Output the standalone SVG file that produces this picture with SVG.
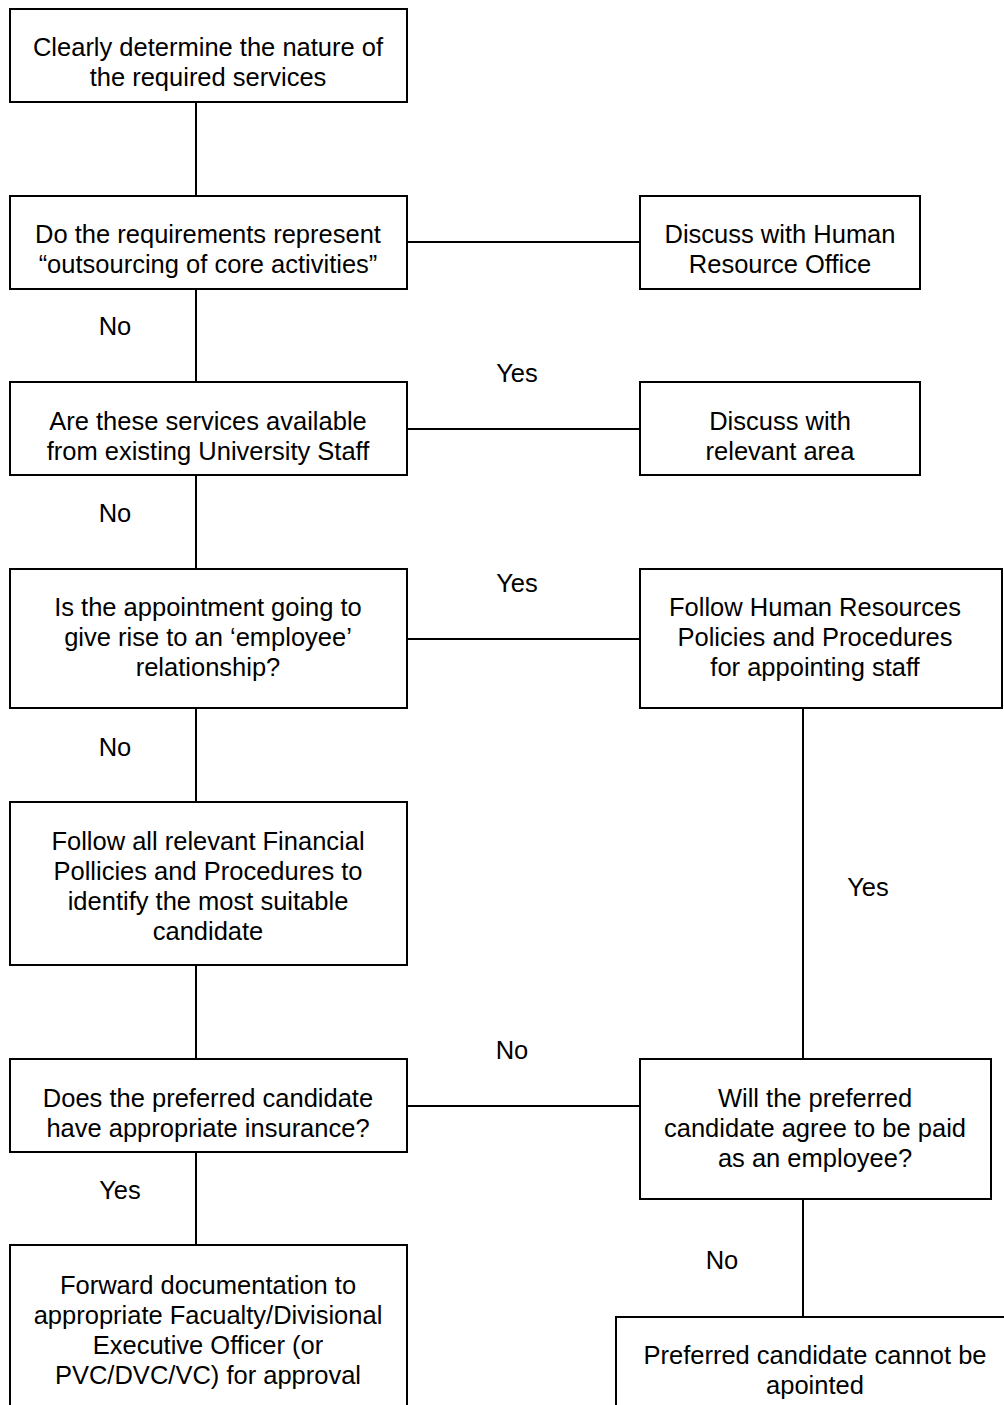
<svg xmlns="http://www.w3.org/2000/svg" width="1004" height="1405" viewBox="0 0 1004 1405">
<style>
rect{fill:#fff;stroke:#000;stroke-width:2}
line{stroke:#000;stroke-width:2}
text{font-family:"Liberation Sans",Arial,sans-serif;font-size:25.5px;fill:#000;text-anchor:middle}
</style>
<rect x="0" y="0" width="1004" height="1405" style="stroke:none"/>
<g id="connectors">
<line x1="196" y1="102" x2="196" y2="196"/>
<line x1="196" y1="289" x2="196" y2="382"/>
<line x1="196" y1="475" x2="196" y2="569"/>
<line x1="196" y1="708" x2="196" y2="802"/>
<line x1="196" y1="965" x2="196" y2="1059"/>
<line x1="196" y1="1152" x2="196" y2="1245"/>
<line x1="407" y1="242" x2="640" y2="242"/>
<line x1="407" y1="429" x2="640" y2="429"/>
<line x1="407" y1="639" x2="640" y2="639"/>
<line x1="407" y1="1106" x2="640" y2="1106"/>
<line x1="803" y1="708" x2="803" y2="1059"/>
<line x1="803" y1="1199" x2="803" y2="1317"/>
<text x="115" y="335">No</text>
<text x="517" y="382">Yes</text>
<text x="115" y="522">No</text>
<text x="517" y="592">Yes</text>
<text x="115" y="756">No</text>
<text x="868" y="896">Yes</text>
<text x="512" y="1059">No</text>
<text x="120" y="1199">Yes</text>
<text x="722" y="1269">No</text>
</g>
<g id="n1"><rect x="10" y="9" width="397" height="93"/><text x="208" y="56">Clearly determine the nature of</text><text x="208" y="86">the required services</text></g>
<g id="n2"><rect x="10" y="196" width="397" height="93"/><text x="208" y="243">Do the requirements represent</text><text x="208" y="273">“outsourcing of core activities”</text></g>
<g id="n3"><rect x="640" y="196" width="280" height="93"/><text x="780" y="243">Discuss with Human</text><text x="780" y="273">Resource Office</text></g>
<g id="n4"><rect x="10" y="382" width="397" height="93"/><text x="208" y="430">Are these services available</text><text x="208" y="460">from existing University Staff</text></g>
<g id="n5"><rect x="640" y="382" width="280" height="93"/><text x="780" y="430">Discuss with</text><text x="780" y="460">relevant area</text></g>
<g id="n6"><rect x="10" y="569" width="397" height="139"/><text x="208" y="616">Is the appointment going to</text><text x="208" y="646">give rise to an ‘employee’</text><text x="208" y="676">relationship?</text></g>
<g id="n7"><rect x="640" y="569" width="362" height="139"/><text x="815" y="616">Follow Human Resources</text><text x="815" y="646">Policies and Procedures</text><text x="815" y="676">for appointing staff</text></g>
<g id="n8"><rect x="10" y="802" width="397" height="163"/><text x="208" y="850">Follow all relevant Financial</text><text x="208" y="880">Pollicies and Procedures to</text><text x="208" y="910">identify the most suitable</text><text x="208" y="940">candidate</text></g>
<g id="n9"><rect x="10" y="1059" width="397" height="93"/><text x="208" y="1107">Does the preferred candidate</text><text x="208" y="1137">have appropriate insurance?</text></g>
<g id="n10"><rect x="640" y="1059" width="351" height="140"/><text x="815" y="1107">Will the preferred</text><text x="815" y="1137">candidate agree to be paid</text><text x="815" y="1167">as an employee?</text></g>
<g id="n11"><rect x="10" y="1245" width="397" height="200"/><text x="208" y="1294">Forward documentation to</text><text x="208" y="1324">appropriate Facualty/Divisional</text><text x="208" y="1354">Executive Officer (or</text><text x="208" y="1384">PVC/DVC/VC) for approval</text></g>
<g id="n12"><rect x="616" y="1317" width="420" height="140"/><text x="815" y="1364">Preferred candidate cannot be</text><text x="815" y="1394">apointed</text></g>
</svg>
